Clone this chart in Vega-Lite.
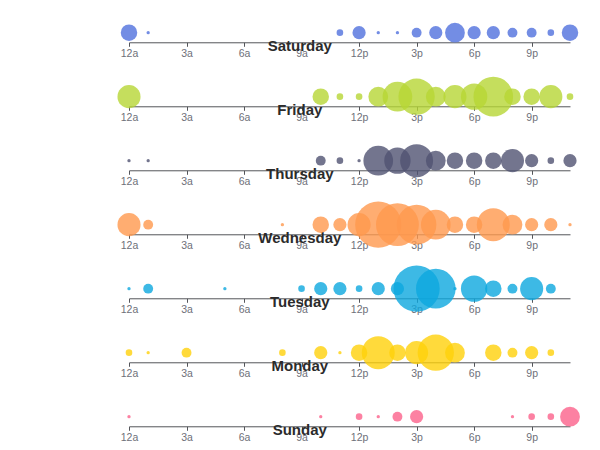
{
  "$schema": "https://vega.github.io/schema/vega-lite/v6.json",
  "autosize": {"type": "pad"},
  "padding": {"left": 117, "top": 22, "right": 5, "bottom": 5},
  "background": "#ffffff",
  "bounds": "flush",
  "spacing": 44,
  "data": {
    "values": [
      {"day": "Saturday", "hour": "12a", "count": 5},
      {"day": "Saturday", "hour": "1a", "count": 1},
      {"day": "Saturday", "hour": "11a", "count": 2},
      {"day": "Saturday", "hour": "12p", "count": 4},
      {"day": "Saturday", "hour": "1p", "count": 1},
      {"day": "Saturday", "hour": "2p", "count": 1},
      {"day": "Saturday", "hour": "3p", "count": 3},
      {"day": "Saturday", "hour": "4p", "count": 4},
      {"day": "Saturday", "hour": "5p", "count": 6},
      {"day": "Saturday", "hour": "6p", "count": 4},
      {"day": "Saturday", "hour": "7p", "count": 4},
      {"day": "Saturday", "hour": "8p", "count": 3},
      {"day": "Saturday", "hour": "9p", "count": 3},
      {"day": "Saturday", "hour": "10p", "count": 2},
      {"day": "Saturday", "hour": "11p", "count": 5},

      {"day": "Friday", "hour": "12a", "count": 7},
      {"day": "Friday", "hour": "10a", "count": 5},
      {"day": "Friday", "hour": "11a", "count": 2},
      {"day": "Friday", "hour": "12p", "count": 2},
      {"day": "Friday", "hour": "1p", "count": 6},
      {"day": "Friday", "hour": "2p", "count": 9},
      {"day": "Friday", "hour": "3p", "count": 11},
      {"day": "Friday", "hour": "4p", "count": 6},
      {"day": "Friday", "hour": "5p", "count": 7},
      {"day": "Friday", "hour": "6p", "count": 8},
      {"day": "Friday", "hour": "7p", "count": 12},
      {"day": "Friday", "hour": "8p", "count": 5},
      {"day": "Friday", "hour": "9p", "count": 5},
      {"day": "Friday", "hour": "10p", "count": 7},
      {"day": "Friday", "hour": "11p", "count": 2},

      {"day": "Thursday", "hour": "12a", "count": 1},
      {"day": "Thursday", "hour": "1a", "count": 1},
      {"day": "Thursday", "hour": "10a", "count": 3},
      {"day": "Thursday", "hour": "11a", "count": 2},
      {"day": "Thursday", "hour": "12p", "count": 1},
      {"day": "Thursday", "hour": "1p", "count": 9},
      {"day": "Thursday", "hour": "2p", "count": 8},
      {"day": "Thursday", "hour": "3p", "count": 10},
      {"day": "Thursday", "hour": "4p", "count": 6},
      {"day": "Thursday", "hour": "5p", "count": 5},
      {"day": "Thursday", "hour": "6p", "count": 5},
      {"day": "Thursday", "hour": "7p", "count": 5},
      {"day": "Thursday", "hour": "8p", "count": 7},
      {"day": "Thursday", "hour": "9p", "count": 4},
      {"day": "Thursday", "hour": "10p", "count": 2},
      {"day": "Thursday", "hour": "11p", "count": 4},

      {"day": "Wednesday", "hour": "12a", "count": 7},
      {"day": "Wednesday", "hour": "1a", "count": 3},
      {"day": "Wednesday", "hour": "8a", "count": 1},
      {"day": "Wednesday", "hour": "10a", "count": 5},
      {"day": "Wednesday", "hour": "11a", "count": 4},
      {"day": "Wednesday", "hour": "12p", "count": 7},
      {"day": "Wednesday", "hour": "1p", "count": 14},
      {"day": "Wednesday", "hour": "2p", "count": 13},
      {"day": "Wednesday", "hour": "3p", "count": 12},
      {"day": "Wednesday", "hour": "4p", "count": 9},
      {"day": "Wednesday", "hour": "5p", "count": 5},
      {"day": "Wednesday", "hour": "6p", "count": 5},
      {"day": "Wednesday", "hour": "7p", "count": 10},
      {"day": "Wednesday", "hour": "8p", "count": 6},
      {"day": "Wednesday", "hour": "9p", "count": 4},
      {"day": "Wednesday", "hour": "10p", "count": 4},
      {"day": "Wednesday", "hour": "11p", "count": 1},

      {"day": "Tuesday", "hour": "12a", "count": 1},
      {"day": "Tuesday", "hour": "1a", "count": 3},
      {"day": "Tuesday", "hour": "5a", "count": 1},
      {"day": "Tuesday", "hour": "9a", "count": 2},
      {"day": "Tuesday", "hour": "10a", "count": 4},
      {"day": "Tuesday", "hour": "11a", "count": 4},
      {"day": "Tuesday", "hour": "12p", "count": 2},
      {"day": "Tuesday", "hour": "1p", "count": 4},
      {"day": "Tuesday", "hour": "2p", "count": 4},
      {"day": "Tuesday", "hour": "3p", "count": 14},
      {"day": "Tuesday", "hour": "4p", "count": 12},
      {"day": "Tuesday", "hour": "5p", "count": 1},
      {"day": "Tuesday", "hour": "6p", "count": 8},
      {"day": "Tuesday", "hour": "7p", "count": 5},
      {"day": "Tuesday", "hour": "8p", "count": 3},
      {"day": "Tuesday", "hour": "9p", "count": 7},
      {"day": "Tuesday", "hour": "10p", "count": 3},

      {"day": "Monday", "hour": "12a", "count": 2},
      {"day": "Monday", "hour": "1a", "count": 1},
      {"day": "Monday", "hour": "3a", "count": 3},
      {"day": "Monday", "hour": "8a", "count": 2},
      {"day": "Monday", "hour": "10a", "count": 4},
      {"day": "Monday", "hour": "11a", "count": 1},
      {"day": "Monday", "hour": "12p", "count": 5},
      {"day": "Monday", "hour": "1p", "count": 10},
      {"day": "Monday", "hour": "2p", "count": 5},
      {"day": "Monday", "hour": "3p", "count": 7},
      {"day": "Monday", "hour": "4p", "count": 11},
      {"day": "Monday", "hour": "5p", "count": 6},
      {"day": "Monday", "hour": "7p", "count": 5},
      {"day": "Monday", "hour": "8p", "count": 3},
      {"day": "Monday", "hour": "9p", "count": 4},
      {"day": "Monday", "hour": "10p", "count": 2},

      {"day": "Sunday", "hour": "12a", "count": 1},
      {"day": "Sunday", "hour": "10a", "count": 1},
      {"day": "Sunday", "hour": "12p", "count": 2},
      {"day": "Sunday", "hour": "1p", "count": 1},
      {"day": "Sunday", "hour": "2p", "count": 3},
      {"day": "Sunday", "hour": "3p", "count": 4},
      {"day": "Sunday", "hour": "8p", "count": 1},
      {"day": "Sunday", "hour": "9p", "count": 2},
      {"day": "Sunday", "hour": "10p", "count": 2},
      {"day": "Sunday", "hour": "11p", "count": 6}
    ]
  },
  "config": {
    "view": {"stroke": null},
    "axisX": {
      "grid": false,
      "domainColor": "#54555a",
      "domainWidth": 1,
      "tickColor": "#54555a",
      "tickSize": 4,
      "tickWidth": 1,
      "labelColor": "#6e7079",
      "labelFont": "Liberation Sans",
      "labelFontSize": 10.5,
      "labelPadding": 2,
      "labelAngle": 0,
      "labelOverlap": false,
      "labelFlush": false,
      "titleFont": "Liberation Sans",
      "titleFontSize": 15,
      "titleFontWeight": "bold",
      "titleColor": "#2b2b2b",
      "titleX": 170.3,
      "titleY": 8,
      "titleAlign": "center",
      "titleBaseline": "alphabetic"
    }
  },
  "resolve": {
    "scale": {"x": "independent", "size": "independent", "color": "independent"},
    "axis": {"x": "independent"}
  },
  "vconcat": [
    {
      "width": 441, "height": 19.29,
      "transform": [{"filter": "datum.day === 'Saturday'"}],
      "mark": {"type": "circle", "opacity": 0.8},
      "encoding": {
        "x": {"field": "hour", "type": "ordinal",
          "scale": {"type": "point", "padding": 0, "domain": ["12a","1a","2a","3a","4a","5a","6a","7a","8a","9a","10a","11a","12p","1p","2p","3p","4p","5p","6p","7p","8p","9p","10p","11p"]},
          "axis": {"title": "Saturday", "values": ["12a","3a","6a","9a","12p","3p","6p","9p"]}},
        "size": {"field": "count", "type": "quantitative", "scale": {"type": "pow", "exponent": 2, "domain": [0, 14], "range": [0, 2134]}, "legend": null},
        "color": {"field": "day", "type": "nominal", "scale": {"domain": ["Saturday","Friday","Thursday","Wednesday","Tuesday","Monday","Sunday"], "range": ["#5070dd","#b6d634","#505372","#ff994d","#0ca8df","#ffd10a","#fb628b"]}, "legend": null}
      }
    },
    {
      "width": 441, "height": 19.29,
      "transform": [{"filter": "datum.day === 'Friday'"}],
      "mark": {"type": "circle", "opacity": 0.8},
      "encoding": {
        "x": {"field": "hour", "type": "ordinal",
          "scale": {"type": "point", "padding": 0, "domain": ["12a","1a","2a","3a","4a","5a","6a","7a","8a","9a","10a","11a","12p","1p","2p","3p","4p","5p","6p","7p","8p","9p","10p","11p"]},
          "axis": {"title": "Friday", "values": ["12a","3a","6a","9a","12p","3p","6p","9p"]}},
        "size": {"field": "count", "type": "quantitative", "scale": {"type": "pow", "exponent": 2, "domain": [0, 14], "range": [0, 2134]}, "legend": null},
        "color": {"field": "day", "type": "nominal", "scale": {"domain": ["Saturday","Friday","Thursday","Wednesday","Tuesday","Monday","Sunday"], "range": ["#5070dd","#b6d634","#505372","#ff994d","#0ca8df","#ffd10a","#fb628b"]}, "legend": null}
      }
    },
    {
      "width": 441, "height": 19.29,
      "transform": [{"filter": "datum.day === 'Thursday'"}],
      "mark": {"type": "circle", "opacity": 0.8},
      "encoding": {
        "x": {"field": "hour", "type": "ordinal",
          "scale": {"type": "point", "padding": 0, "domain": ["12a","1a","2a","3a","4a","5a","6a","7a","8a","9a","10a","11a","12p","1p","2p","3p","4p","5p","6p","7p","8p","9p","10p","11p"]},
          "axis": {"title": "Thursday", "values": ["12a","3a","6a","9a","12p","3p","6p","9p"]}},
        "size": {"field": "count", "type": "quantitative", "scale": {"type": "pow", "exponent": 2, "domain": [0, 14], "range": [0, 2134]}, "legend": null},
        "color": {"field": "day", "type": "nominal", "scale": {"domain": ["Saturday","Friday","Thursday","Wednesday","Tuesday","Monday","Sunday"], "range": ["#5070dd","#b6d634","#505372","#ff994d","#0ca8df","#ffd10a","#fb628b"]}, "legend": null}
      }
    },
    {
      "width": 441, "height": 19.29,
      "transform": [{"filter": "datum.day === 'Wednesday'"}],
      "mark": {"type": "circle", "opacity": 0.8},
      "encoding": {
        "x": {"field": "hour", "type": "ordinal",
          "scale": {"type": "point", "padding": 0, "domain": ["12a","1a","2a","3a","4a","5a","6a","7a","8a","9a","10a","11a","12p","1p","2p","3p","4p","5p","6p","7p","8p","9p","10p","11p"]},
          "axis": {"title": "Wednesday", "values": ["12a","3a","6a","9a","12p","3p","6p","9p"]}},
        "size": {"field": "count", "type": "quantitative", "scale": {"type": "pow", "exponent": 2, "domain": [0, 14], "range": [0, 2134]}, "legend": null},
        "color": {"field": "day", "type": "nominal", "scale": {"domain": ["Saturday","Friday","Thursday","Wednesday","Tuesday","Monday","Sunday"], "range": ["#5070dd","#b6d634","#505372","#ff994d","#0ca8df","#ffd10a","#fb628b"]}, "legend": null}
      }
    },
    {
      "width": 441, "height": 19.29,
      "transform": [{"filter": "datum.day === 'Tuesday'"}],
      "mark": {"type": "circle", "opacity": 0.8},
      "encoding": {
        "x": {"field": "hour", "type": "ordinal",
          "scale": {"type": "point", "padding": 0, "domain": ["12a","1a","2a","3a","4a","5a","6a","7a","8a","9a","10a","11a","12p","1p","2p","3p","4p","5p","6p","7p","8p","9p","10p","11p"]},
          "axis": {"title": "Tuesday", "values": ["12a","3a","6a","9a","12p","3p","6p","9p"]}},
        "size": {"field": "count", "type": "quantitative", "scale": {"type": "pow", "exponent": 2, "domain": [0, 14], "range": [0, 2134]}, "legend": null},
        "color": {"field": "day", "type": "nominal", "scale": {"domain": ["Saturday","Friday","Thursday","Wednesday","Tuesday","Monday","Sunday"], "range": ["#5070dd","#b6d634","#505372","#ff994d","#0ca8df","#ffd10a","#fb628b"]}, "legend": null}
      }
    },
    {
      "width": 441, "height": 19.29,
      "transform": [{"filter": "datum.day === 'Monday'"}],
      "mark": {"type": "circle", "opacity": 0.8},
      "encoding": {
        "x": {"field": "hour", "type": "ordinal",
          "scale": {"type": "point", "padding": 0, "domain": ["12a","1a","2a","3a","4a","5a","6a","7a","8a","9a","10a","11a","12p","1p","2p","3p","4p","5p","6p","7p","8p","9p","10p","11p"]},
          "axis": {"title": "Monday", "values": ["12a","3a","6a","9a","12p","3p","6p","9p"]}},
        "size": {"field": "count", "type": "quantitative", "scale": {"type": "pow", "exponent": 2, "domain": [0, 14], "range": [0, 2134]}, "legend": null},
        "color": {"field": "day", "type": "nominal", "scale": {"domain": ["Saturday","Friday","Thursday","Wednesday","Tuesday","Monday","Sunday"], "range": ["#5070dd","#b6d634","#505372","#ff994d","#0ca8df","#ffd10a","#fb628b"]}, "legend": null}
      }
    },
    {
      "width": 441, "height": 19.29,
      "transform": [{"filter": "datum.day === 'Sunday'"}],
      "mark": {"type": "circle", "opacity": 0.8},
      "encoding": {
        "x": {"field": "hour", "type": "ordinal",
          "scale": {"type": "point", "padding": 0, "domain": ["12a","1a","2a","3a","4a","5a","6a","7a","8a","9a","10a","11a","12p","1p","2p","3p","4p","5p","6p","7p","8p","9p","10p","11p"]},
          "axis": {"title": "Sunday", "values": ["12a","3a","6a","9a","12p","3p","6p","9p"]}},
        "size": {"field": "count", "type": "quantitative", "scale": {"type": "pow", "exponent": 2, "domain": [0, 14], "range": [0, 2134]}, "legend": null},
        "color": {"field": "day", "type": "nominal", "scale": {"domain": ["Saturday","Friday","Thursday","Wednesday","Tuesday","Monday","Sunday"], "range": ["#5070dd","#b6d634","#505372","#ff994d","#0ca8df","#ffd10a","#fb628b"]}, "legend": null}
      }
    }
  ]
}
